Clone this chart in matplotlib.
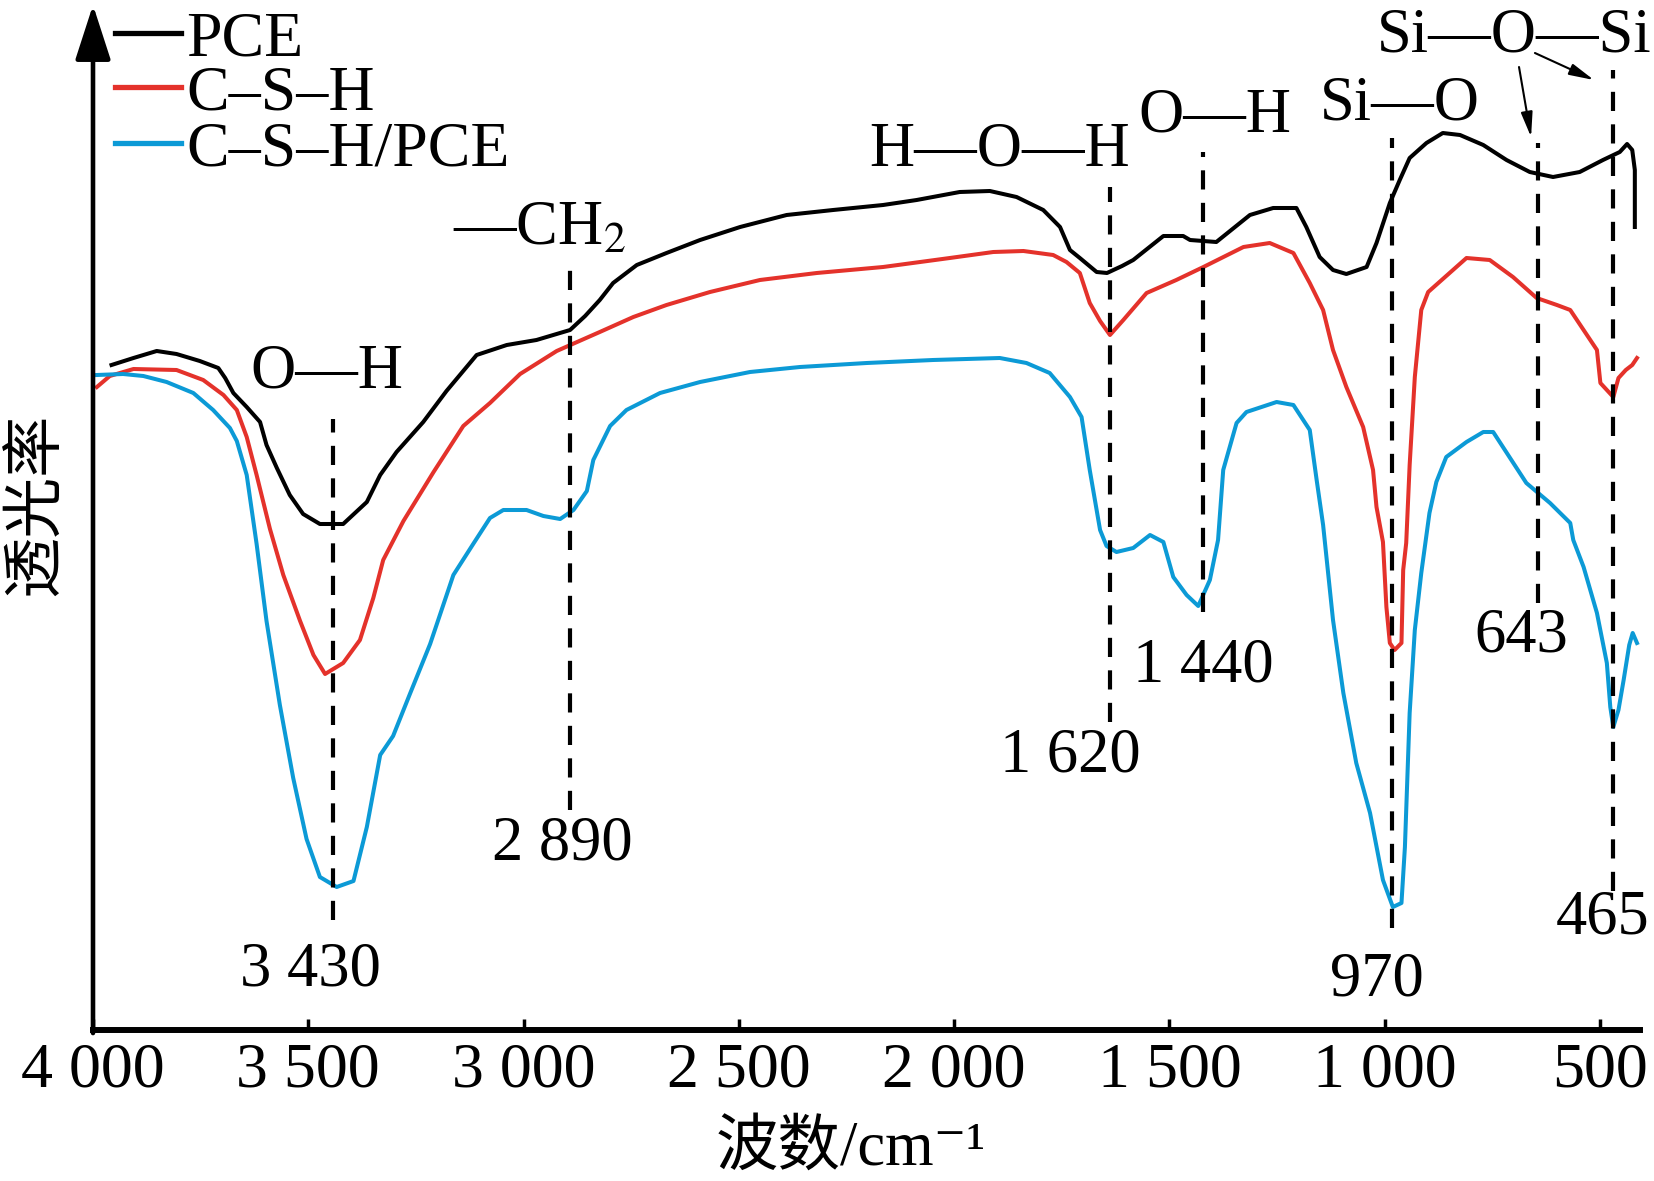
import matplotlib
matplotlib.use('Agg')
import matplotlib.pyplot as plt
from matplotlib.lines import Line2D

plt.rcParams['font.family'] = ['Liberation Serif', 'Noto Sans CJK SC', 'DejaVu Serif']
plt.rcParams['mathtext.fontset'] = 'stix'

# ---- spectra (wavenumber / cm-1, transmittance in arbitrary units) ----
pce_x = [3957, 3906, 3852, 3806, 3752, 3709, 3693, 3674, 3643, 3612, 3597, 3573,
         3543, 3512, 3473, 3419, 3364, 3333, 3295, 3233, 3179, 3109, 3039, 2970,
         2892, 2857, 2823, 2792, 2737, 2668, 2590, 2497, 2389, 2281, 2165, 2087,
         1987, 1917, 1855, 1793, 1754, 1731, 1708, 1669, 1645, 1610, 1584, 1514,
         1468, 1452, 1391, 1313, 1259, 1205, 1182, 1151, 1120, 1089, 1042, 1019,
         988, 965, 942, 903, 865, 825, 771, 717, 663, 609, 547, 493, 454, 437,
         425, 419, 419]
pce_y = [665, 672, 679, 676, 669, 662, 652, 637, 623, 608, 585, 562,
         535, 516, 506, 506, 528, 555, 578, 608, 639, 675, 685, 690,
         700, 714, 730, 747, 765, 777, 790, 803, 815, 820, 825, 830,
         838, 839, 833, 820, 803, 780, 772, 758, 757, 764, 770, 794,
         794, 790, 788, 815, 822, 822, 803, 773, 760, 756, 763, 787,
         827, 850, 872, 887, 897, 895, 885, 870, 858, 853, 858, 870, 878, 886,
         880, 860, 803]

csh_x = [3991, 3961, 3906, 3806, 3744, 3697, 3666, 3643, 3620, 3589, 3558, 3519,
         3488, 3461, 3419, 3380, 3349, 3326, 3279, 3209, 3140, 3078, 3008, 2923,
         2823, 2745, 2668, 2567, 2451, 2319, 2165, 2010, 1909, 1839, 1770, 1739,
         1708, 1685, 1661, 1638, 1607, 1553, 1484, 1421, 1328, 1267, 1212, 1174,
         1143, 1120, 1089, 1050, 1027, 1019, 1004, 996, 988, 977, 961, 957, 950,
         942, 930, 915, 899, 810, 756, 702, 647, 600, 569, 538, 507, 499, 469,
         457, 440, 425, 414]
csh_y = [643, 654, 661, 660, 650, 635, 620, 593, 555, 501, 455, 409,
         375, 356, 367, 390, 432, 470, 509, 558, 604, 627, 656, 679,
         698, 713, 725, 738, 750, 757, 763, 772, 778, 779, 775, 768,
         757, 727, 709, 695, 710, 737, 750, 763, 783, 787, 777, 747,
         720, 680, 643, 603, 560, 523, 488, 423, 387, 380, 387, 460, 487,
         565, 653, 720, 738, 772, 770, 753, 732, 725, 720, 700, 680, 647, 633,
         652, 660, 665, 672]

mix_x = [3991, 3930, 3883, 3829, 3767, 3721, 3682, 3666, 3643, 3620, 3597, 3566,
         3535, 3504, 3473, 3434, 3395, 3364, 3333, 3303, 3264, 3217, 3163, 3117,
         3078, 3047, 2993, 2954, 2915, 2884, 2853, 2838, 2799, 2761, 2683, 2590,
         2474, 2358, 2203, 2049, 1894, 1832, 1778, 1731, 1704, 1685, 1661, 1646,
         1623, 1584, 1545, 1514, 1491, 1460, 1433, 1406, 1387, 1375, 1344, 1321,
         1251, 1212, 1174, 1158, 1143, 1120, 1096, 1066, 1034, 1004, 981, 961,
         953, 942, 930, 915, 896, 880, 857, 810, 771, 748, 671, 616, 569, 562,
         538, 507, 484, 476, 469, 457, 445, 432, 424, 414]
mix_y = [655, 656, 654, 648, 637, 620, 602, 589, 555, 486, 409, 325,
         252, 191, 153, 143, 149, 203, 275, 294, 336, 386, 455, 486,
         512, 520, 520, 514, 511, 520, 539, 570, 604, 620, 637, 648,
         658, 663, 667, 670, 672, 667, 657, 633, 613, 560, 500, 484,
         478, 482, 495, 488, 453, 435, 424, 450, 490, 560, 607, 618,
         628, 625, 600, 550, 505, 410, 337, 267, 217, 150, 123, 127,
         183, 317, 400, 457, 517, 548, 573, 588, 598, 598, 547, 527, 507, 490,
         463, 417, 367, 323, 303, 320, 350, 385, 397, 387]

series = [(pce_x, pce_y, 'PCE', '#000000'),
          (csh_x, csh_y, 'C\u2013S\u2013H', '#E4322B'),
          (mix_x, mix_y, 'C\u2013S\u2013H/PCE', '#0C9AD6')]

# ---- marked bands ----
peak_pos = [3442, 2892, 1638, 1423, 982, 643, 469]
peak_lo = [110, 220, 308, 418, 102, 427, 139]
peak_hi = [611, 761, 843, 878, 892, 887, 960]
peak_text = ['3 430', '2 890', '1 620', '1 440', '970', '643', '465']
peak_text_x = [3496, 2911, 1729, 1422, 1018, 682, 493]
peak_text_y = [60, 185, 273, 363, 49, 393, 112]

bond_text = ['O\u2014H', '\u2014CH$_2$', 'H\u2014O\u2014H', 'O\u2014H', 'Si\u2014O', 'Si\u2014O\u2014Si']
bond_x = [3457, 2962, 1894, 1394, 965, 700]
bond_y = [658, 800, 879, 914, 925, 993]

arrow_from = [(688, 963), (651, 977)]
arrow_to = [(660, 893), (514, 950)]

xticks = [4000, 3500, 3000, 2500, 2000, 1500, 1000, 500]
xtick_labels = ['4 000', '3 500', '3 000', '2 500', '2 000', '1 500', '1 000', '500']

W, H = 1654, 1181
fig = plt.figure(figsize=(W / 100, H / 100), dpi=100)
ax = fig.add_axes([93 / W, 151 / H, 1547 / W, 1025 / H])

for x, y, lab, col in series:
    ax.plot(x, y, color=col, lw=2.9, label=lab, zorder=2)

for p, lo, hi in zip(peak_pos, peak_lo, peak_hi):
    ax.plot([p, p], [lo, hi], color='black', lw=3.0, ls=(0, (4.6, 3.2)), zorder=3)

for s, x, y in zip(peak_text, peak_text_x, peak_text_y):
    ax.text(x, y, s, ha='center', va='center', fontsize=45)

for s, x, y in zip(bond_text, bond_x, bond_y):
    ax.text(x, y, s, ha='center', va='center', fontsize=45)

for a, b in zip(arrow_from, arrow_to):
    ax.annotate('', xy=b, xytext=a,
                arrowprops=dict(arrowstyle='-|>,head_length=1.5,head_width=0.35',
                                mutation_scale=10, lw=1.5, color='black',
                                shrinkA=0, shrinkB=0),
                annotation_clip=False)

ax.set_xlim(4000, 407)
ax.set_ylim(0, 1025)
ax.set_xticks(xticks)
ax.set_xticklabels(xtick_labels)
ax.set_yticks([])
ax.tick_params(axis='x', direction='in', length=8, width=2.5, pad=9, labelsize=46)
for side in ['top', 'right', 'left']:
    ax.spines[side].set_visible(False)
ax.spines['bottom'].set_linewidth(4.3)

# y axis drawn as an arrow
ax.annotate('', xy=(0, 1), xytext=(0, -0.003), xycoords='axes fraction',
            arrowprops=dict(arrowstyle='-|>,head_length=1.7,head_width=0.55',
                            mutation_scale=20, lw=3.3, color='black',
                            shrinkA=0, shrinkB=0),
            annotation_clip=False)

ax.set_xlabel('波数/cm\u207b\u00b9', fontsize=45, va='center')
ax.xaxis.set_label_coords(0.49, -0.117)
ax.set_ylabel('透光率', fontsize=44, va='center')
ax.yaxis.set_label_coords(-0.036, 0.513)

# legend, drawn by hand in the top-left corner
leg_y = [33, 87, 143]
for (x, y, lab, col), ly in zip(series, leg_y):
    fig.add_artist(Line2D([115 / W, 181 / W], [1 - ly / H] * 2, color=col, lw=3.8,
                          transform=fig.transFigure))
    fig.text(186 / W, 1 - (ly + 22) / H, lab, ha='left', va='baseline', fontsize=46)

fig.savefig('out.png', dpi=100)
